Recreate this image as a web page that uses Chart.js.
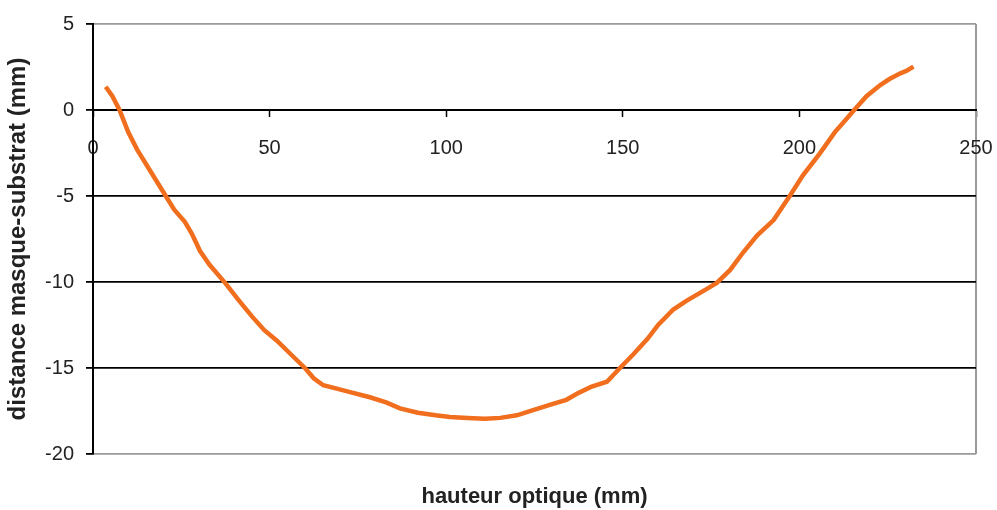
<!DOCTYPE html>
<html>
<head>
<meta charset="utf-8">
<script src="https://cdn.jsdelivr.net/npm/chart.js"></script>
<style>
  html, body { margin: 0; padding: 0; background: #fff; }
  #wrap { width: 997px; height: 510px; }
</style>
</head>
<body>
<div id="wrap"><canvas id="profil"></canvas></div>

<script>
  // measured profile: optical height (mm) vs mask-substrate distance (mm)
  const hauteur = [
    3.6, 5.5, 7.5, 10, 12.5, 16.1, 18.5, 20.6, 23, 26.0, 28, 30.3, 33, 37.4,
    41, 45, 48.5, 52.0, 56, 60.0, 62.5, 65.2, 69, 72.8, 78.4, 83, 86.9, 92,
    97, 101.1, 106, 111, 115.3, 120, 124.6, 130, 134, 137, 141, 145.5, 149.2,
    153, 157, 160, 164.3, 168, 173.8, 176.6, 180.4, 184, 188, 192.7, 197.4,
    201, 205.8, 210, 213, 215.7, 219, 222.9, 225.5, 228.6, 230.5, 232.3
  ];
  const distance = [
    1.35, 0.8, 0, -1.3, -2.3, -3.5, -4.3, -5.0, -5.8, -6.5, -7.2, -8.2, -9.0,
    -10.05, -11.0, -12.0, -12.8, -13.4, -14.2, -15.0, -15.6, -16.0, -16.2,
    -16.4, -16.7, -17.0, -17.35, -17.6, -17.75, -17.85, -17.9, -17.95, -17.9,
    -17.75, -17.45, -17.1, -16.85, -16.5, -16.1, -15.8, -15.0, -14.2, -13.3,
    -12.5, -11.6, -11.1, -10.4, -10.05, -9.3, -8.3, -7.3, -6.4, -4.95, -3.8,
    -2.52, -1.3, -0.6, 0.04, 0.8, 1.45, 1.8, 2.13, 2.3, 2.52
  ];
  const xTicks = [0, 50, 100, 150, 200, 250];
  const yTicks = [5, 0, -5, -10, -15, -20];

  const points = hauteur.map((x, i) => ({ x: x, y: distance[i] }));
  const font = "'Liberation Sans', Arial, sans-serif";

  // keep tick labels from widening the side margins
  const noSidePadding = (s) => { s.paddingLeft = 0; s.paddingRight = 0; };

  new Chart(document.getElementById("profil"), {
    type: "scatter",
    data: {
      datasets: [
        {
          data: points,
          showLine: true,
          borderColor: "#f06e1e",
          borderWidth: 4.5,
          pointRadius: 0,
          tension: 0,
        },
      ],
    },
    options: {
      responsive: true,
      maintainAspectRatio: false,
      animation: false,
      layout: { padding: { top: 24, right: 21, left: 0, bottom: 0 } },
      plugins: { legend: { display: false }, tooltip: { enabled: false } },
      scales: {
        x: {
          type: "linear",
          position: { y: 0 },
          min: 0,
          max: 250,
          afterBuildTicks: (s) => { s.ticks = xTicks.map((v) => ({ value: v })); },
          afterFit: noSidePadding,
          grid: { drawOnChartArea: false, tickLength: 6, tickColor: "#000", tickWidth: 1.5 },
          border: { color: "#000", width: 2 },
          ticks: { color: "#222", padding: 20, maxRotation: 0, font: { family: font, size: 20 } },
        },
        // bottom band holding the axis title and the right frame line
        xt: {
          type: "linear",
          position: "bottom",
          axis: "x",
          min: 0,
          max: 250,
          afterBuildTicks: (s) => { s.ticks = xTicks.map((v) => ({ value: v })); },
          afterFit: (s) => { s.height = 56; noSidePadding(s); },
          grid: {
            drawTicks: false,
            lineWidth: 2,
            color: (c) => (c.tick && c.tick.value === 250 ? "#9a9a9a" : "rgba(0,0,0,0)"),
          },
          border: { display: false },
          ticks: { display: false },
          title: {
            display: true,
            text: "hauteur optique (mm)",
            color: "#222",
            padding: { top: 2, bottom: 0 },
            font: { family: font, size: 22, weight: "bold" },
          },
        },
        y: {
          type: "linear",
          min: -20,
          max: 5,
          afterBuildTicks: (s) => { s.ticks = yTicks.map((v) => ({ value: v })); },
          afterFit: (s) => { s.width = 93; },
          grid: {
            color: (c) => (c.tick && (c.tick.value === 5 || c.tick.value === -20) ? "#9a9a9a" : "#000"),
            lineWidth: 1.8,
            tickLength: 7,
            tickColor: "#000",
          },
          border: { color: "#000", width: 2 },
          ticks: { color: "#222", padding: 12, font: { family: font, size: 20 } },
          title: {
            display: true,
            text: "distance masque-substrat (mm)",
            color: "#222",
            padding: { top: 4, bottom: 0 },
            font: { family: font, size: 24, weight: "bold" },
          },
        },
      },
    },
  });
</script>
</body>
</html>
